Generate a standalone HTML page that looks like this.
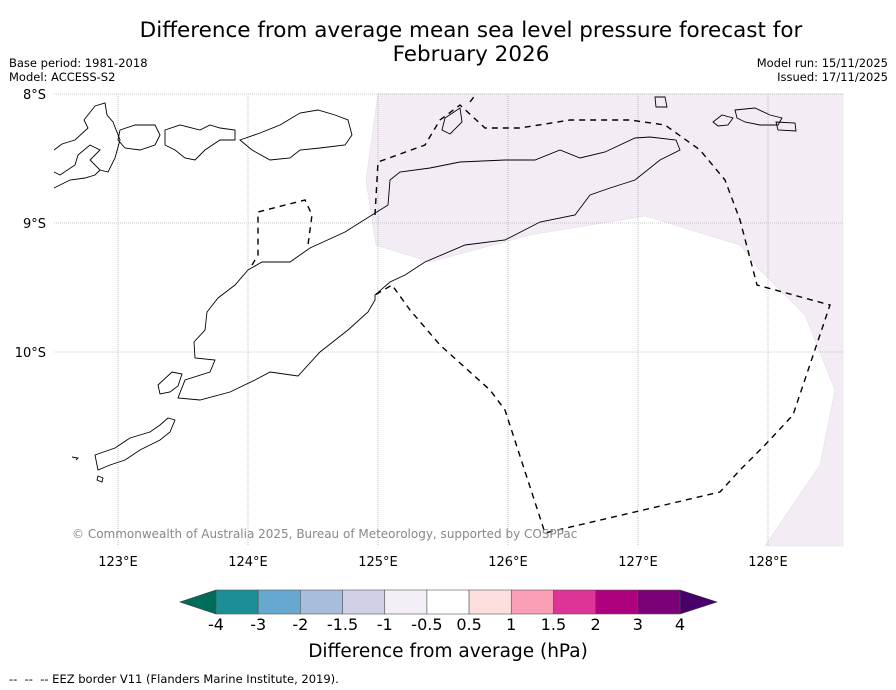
<!DOCTYPE html>
<html><head><meta charset="utf-8">
<style>
body{margin:0;background:#fff;font-family:"Liberation Sans","DejaVu Sans",sans-serif;}
#wrap{position:relative;width:896px;height:690px;overflow:hidden;background:#fff}
.t{position:absolute;white-space:nowrap;color:#000}
</style></head>
<body>
<div id="wrap">
<div class="t" style="left:0;width:942px;top:19px;text-align:center;font-size:21.5px;line-height:24px;font-family:'DejaVu Sans',sans-serif">Difference from average mean sea level pressure forecast for<br>February 2026</div>
<div class="t" style="left:9px;top:56px;font-size:11.5px;font-family:'DejaVu Sans',sans-serif">Base period: 1981-2018</div>
<div class="t" style="left:9px;top:70px;font-size:11.5px;font-family:'DejaVu Sans',sans-serif">Model: ACCESS-S2</div>
<div class="t" style="right:8px;top:56px;font-size:11.5px;text-align:right;font-family:'DejaVu Sans',sans-serif">Model run: 15/11/2025</div>
<div class="t" style="right:8px;top:70px;font-size:11.5px;text-align:right;font-family:'DejaVu Sans',sans-serif">Issued: 17/11/2025</div>
<div class="t" style="left:9px;top:672px;font-size:11.5px;font-family:'DejaVu Sans',sans-serif">--&nbsp; --&nbsp; -- EEZ border V11 (Flanders Marine Institute, 2019).</div>

<svg id="svg" width="896" height="690" style="position:absolute;left:0;top:0">
<g id="map">
<polygon fill="#f3ecf5" stroke="#e6dbe9" stroke-width="0.6" points="378,94 843,94 843,546 765,546 820,465 835,390 805,315 760,270 740,245 645,216 530,235 430,262 376,245 366,180"/>
<g id="grid"></g>
<g fill="none" stroke="#000" stroke-width="0.9">
<polygon points="375,295 390,282 405,275 425,262 465,245 505,240 540,222 575,215 590,195 610,188 635,180 660,160 680,150 676,140 650,137 635,138 605,152 580,158 560,150 535,160 505,160 460,162 430,168 400,172 390,180 388,205 372,215 345,232 310,248 290,262 262,262 248,270 235,285 218,298 207,312 205,330 194,342 195,358 215,360 210,372 185,380 178,398 200,400 230,392 255,380 270,372 298,376 320,352 348,330 368,312 375,300"/>
<polyline points="54,150 62,144 75,140 88,128 84,120 95,106 105,103 107,115 113,122 120,140 115,158 108,172 100,170 90,160 100,150 90,145 78,155 75,165 60,175 54,172"/>
<polyline points="54,188 70,180 85,178 95,175 100,170"/>
<polygon points="120,130 135,125 155,125 160,135 155,145 140,150 125,148 118,140"/>
<polygon points="165,130 180,125 200,130 210,125 220,128 235,130 235,140 220,140 205,150 195,160 185,158 175,150 165,145"/>
<polygon points="240,140 260,133 280,125 300,113 318,110 335,115 348,120 352,135 345,145 320,148 300,150 290,158 270,160 252,150"/>
<polygon points="655,97 665,97 667,107 656,107"/>
<polygon points="735,110 755,108 770,115 782,118 778,125 760,125 745,122 737,118"/>
<polygon points="713,122 722,115 733,118 728,125 718,126"/>
<polygon points="776,122 795,123 796,131 778,130"/>
<polygon points="445,118 460,108 462,122 450,134 442,130"/>
<polygon points="95,455 115,448 130,438 150,432 160,425 168,418 175,420 170,432 160,440 140,450 125,460 110,465 98,470"/>
<polygon points="158,385 172,372 182,374 178,386 170,392 160,394"/>
<polygon points="98,476 103,478 102,482 97,480"/>
<polyline points="72,457 78,458 76,460"/>
</g>
<g fill="none" stroke="#000" stroke-width="1.4" stroke-dasharray="6,5">
<polyline points="375,215 378,162 425,145 440,120 460,105 485,128 520,128 570,120 630,120 665,125 700,150 725,180 740,220 757,285 830,305 793,415 765,445 740,470 720,492 545,533 505,410 490,390 440,345 410,310 392,285 375,295"/>
<polyline points="252,265 258,255 258,212 305,200 312,215 308,245"/>
<polyline points="470,102 476,94"/>
</g>
</g>
<text x="72" y="538" font-size="12" fill="#888" font-family="DejaVu Sans, sans-serif">© Commonwealth of Australia 2025, Bureau of Meteorology, supported by COSPPac</text>
<g id="axes" font-family="DejaVu Sans, sans-serif" font-size="13"></g>
<g id="cbar"></g>
<text x="448" y="657" text-anchor="middle" font-size="18.5" font-family="DejaVu Sans, sans-serif">Difference from average (hPa)</text>
</svg>
</div>
<script>
const lonTicks=[123,124,125,126,127,128];
const latTicks=[8,9,10];
const cbLevels=["-4","-3","-2","-1.5","-1","-0.5","0.5","1","1.5","2","3","4"];
const cbColors=["#1b8e96","#66a8cf","#a6bddb","#d0d1e6","#f4eef6","#ffffff","#fde0dd","#fa9fb5","#dd3497","#ae017e","#7a0177"];
const lonX=l=>118+(l-123)*130;
const latY=l=>94+(l-8)*129;
const NS="http://www.w3.org/2000/svg";
const grid=document.getElementById('grid'),axes=document.getElementById('axes'),cb=document.getElementById('cbar');
function mk(tag,at,parent){const e=document.createElementNS(NS,tag);for(const k in at)e.setAttribute(k,at[k]);parent.appendChild(e);return e;}
lonTicks.forEach(l=>{
 const ln=mk('line',{x1:lonX(l),x2:lonX(l),y1:94,y2:546,stroke:'#999','stroke-width':0.6,'stroke-dasharray':'1,1'},grid);
 
 
 const t=mk('text',{x:lonX(l),y:566,'text-anchor':'middle'},axes);t.textContent=l+'°E';
 
 
});
latTicks.forEach(l=>{
 const ln=mk('line',{x1:54,x2:843,y1:latY(l),y2:latY(l),stroke:'#999','stroke-width':0.6,'stroke-dasharray':'1,1'},grid);
 
 
 const t=mk('text',{x:46,y:latY(l)+5,'text-anchor':'end'},axes);t.textContent=l+'°S';
 
 
});
const x0=216,x1=680,y0=590,h=24,w=(x1-x0)/cbColors.length;
const lt=mk('polygon',{points:`${x0},${y0} ${x0},${y0+h} 180,${y0+h/2}`,fill:'#016c59',stroke:'#333','stroke-width':0.6},cb);


const rt=mk('polygon',{points:`${x1},${y0} ${x1},${y0+h} 717,${y0+h/2}`,fill:'#49006a',stroke:'#333','stroke-width':0.6},cb);


cbColors.forEach((c,i)=>{
 const r=mk('rect',{x:x0+i*w,y:y0,width:w,height:h,fill:c,stroke:'#555','stroke-width':0.6},cb);
 
 
});
cbLevels.forEach((s,i)=>{
 const t=mk('text',{x:x0+i*w,y:630,'text-anchor':'middle','font-size':16,'font-family':'DejaVu Sans, sans-serif'},cb);t.textContent=s;
 
 
});
</script>
</body></html>
